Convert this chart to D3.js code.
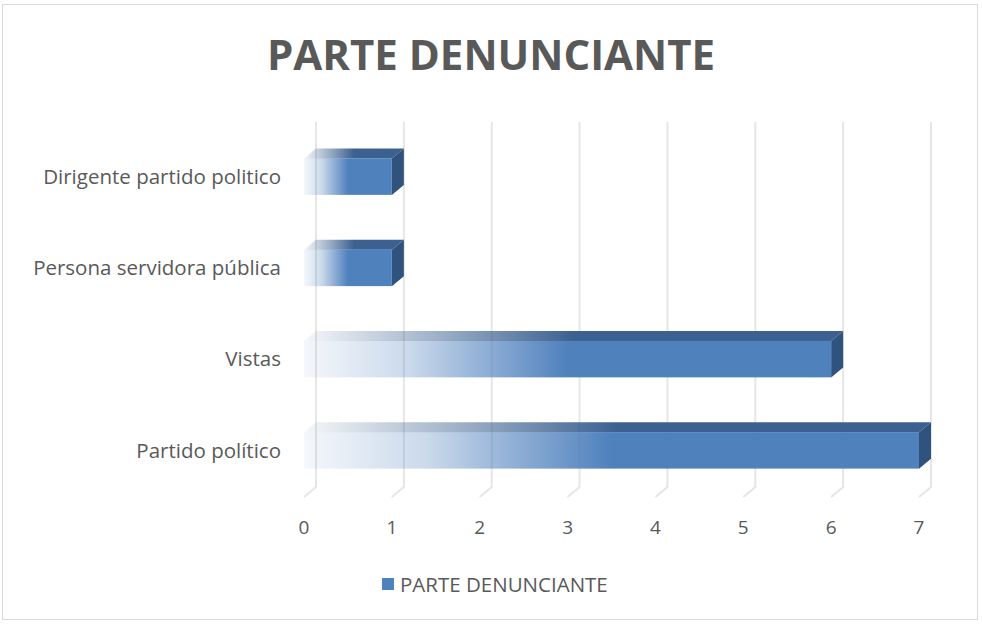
<!DOCTYPE html>
<html>
<head>
<meta charset="utf-8">
<script src="https://cdn.jsdelivr.net/npm/d3@7"></script>
<style>
  body { margin: 0; background: #fff; }
  svg text { font-family: "Open Sans", "Liberation Sans", sans-serif; fill: #595959; }
</style>
</head>
<body>
<div id="grafica"></div>
<script>
// datos del grafico
var categorias = ["Dirigente partido politico", "Persona servidora pública", "Vistas", "Partido político"]
var valores = [1, 1, 6, 7]
var ticks = [0, 1, 2, 3, 4, 5, 6, 7]
var titulo = "PARTE DENUNCIANTE"
var serie = "PARTE DENUNCIANTE"

var width = 982
var height = 624
var prof = { dx: 12, dy: -10 }   // profundidad 3D
var azul = "#4f81bd"

var svg = d3.select("#grafica")
    .append("svg")
    .attr("width", width)
    .attr("height", height)

// borde del area del grafico
svg.append("rect")
    .attr("x", 2.5).attr("y", 4.5)
    .attr("width", 975).attr("height", 615)
    .attr("fill", "#fff")
    .attr("stroke", "#d9d9d9")

var x = d3.scaleLinear().domain([0, 7]).range([304, 919])
var y = d3.scaleBand()
    .domain(categorias)
    .range([131, 496])
    .paddingInner(0.6)
    .paddingOuter(0.3)

// gradientes
var defs = svg.append("defs")
var gFrente = defs.append("linearGradient").attr("id", "gFrente")
    .attr("x1", 0).attr("x2", 1).attr("y1", 0).attr("y2", 0)
gFrente.append("stop").attr("offset", 0).attr("stop-color", azul).attr("stop-opacity", 0.06)
gFrente.append("stop").attr("offset", 0.2).attr("stop-color", azul).attr("stop-opacity", 0.3)
gFrente.append("stop").attr("offset", 0.5).attr("stop-color", azul).attr("stop-opacity", 1)
gFrente.append("stop").attr("offset", 1).attr("stop-color", azul).attr("stop-opacity", 1)

var gTecho = defs.append("linearGradient").attr("id", "gTecho")
    .attr("x1", 0).attr("x2", 1).attr("y1", 0).attr("y2", 0)
gTecho.append("stop").attr("offset", 0).attr("stop-color", "#3c6190").attr("stop-opacity", 0.05)
gTecho.append("stop").attr("offset", 0.25).attr("stop-color", "#3c6190").attr("stop-opacity", 0.5)
gTecho.append("stop").attr("offset", 0.5).attr("stop-color", "#3c6190").attr("stop-opacity", 1)
gTecho.append("stop").attr("offset", 1).attr("stop-color", "#3c6190").attr("stop-opacity", 1)

// titulo
svg.append("text")
    .attr("x", 491).attr("y", 70)
    .attr("text-anchor", "middle")
    .style("font-size", "42px")
    .style("font-weight", "bold")
    .text(titulo)

// lineas de la cuadricula (pared del fondo + suelo)
var yTop = 122, yBase = 497
svg.append("g")
    .selectAll("path")
    .data(ticks)
    .join("path")
    .attr("d", d => "M" + (x(d) + prof.dx) + "," + yTop +
        "V" + (yBase + prof.dy) + "L" + x(d) + "," + yBase)
    .attr("fill", "none")
    .attr("stroke", "#e6e6e6")
    .attr("stroke-width", 2)

// barras 3D
var barras = svg.append("g")
    .selectAll("g")
    .data(categorias.map((c, i) => ({ cat: c, val: valores[i] })))
    .join("g")

// cara superior
barras.append("path")
    .attr("d", d => {
        var y0 = y(d.cat), x0 = x(0), x1 = x(d.val)
        return "M" + x0 + "," + y0 + "L" + (x0 + prof.dx) + "," + (y0 + prof.dy) +
            "L" + (x1 + prof.dx) + "," + (y0 + prof.dy) + "L" + x1 + "," + y0 + "Z"
    })
    .attr("fill", "url(#gTecho)")

// cara lateral
barras.append("path")
    .attr("d", d => {
        var y0 = y(d.cat), y1 = y0 + y.bandwidth(), x1 = x(d.val)
        return "M" + x1 + "," + y0 + "L" + (x1 + prof.dx) + "," + (y0 + prof.dy) +
            "L" + (x1 + prof.dx) + "," + (y1 + prof.dy) + "L" + x1 + "," + y1 + "Z"
    })
    .attr("fill", "#30537e")

// cara frontal
barras.append("rect")
    .attr("x", x(0))
    .attr("y", d => y(d.cat))
    .attr("width", d => x(d.val) - x(0))
    .attr("height", y.bandwidth())
    .attr("fill", "url(#gFrente)")

// etiquetas de categorias
svg.append("g")
    .selectAll("text")
    .data(categorias)
    .join("text")
    .attr("x", 281)
    .attr("y", d => y(d) + y.bandwidth() / 2)
    .attr("dy", "0.35em")
    .attr("text-anchor", "end")
    .style("font-size", "20.5px")
    .text(d => d)

// etiquetas del eje x
svg.append("g")
    .selectAll("text")
    .data(ticks)
    .join("text")
    .attr("x", d => x(d))
    .attr("y", 527)
    .attr("dy", "0.35em")
    .attr("text-anchor", "middle")
    .style("font-size", "19px")
    .text(d => d)

// leyenda
svg.append("rect")
    .attr("x", 382).attr("y", 578)
    .attr("width", 12).attr("height", 12)
    .attr("fill", azul)
svg.append("text")
    .attr("x", 400).attr("y", 585)
    .attr("dy", "0.35em")
    .style("font-size", "20.5px")
    .text(serie)
</script>
</body>
</html>
